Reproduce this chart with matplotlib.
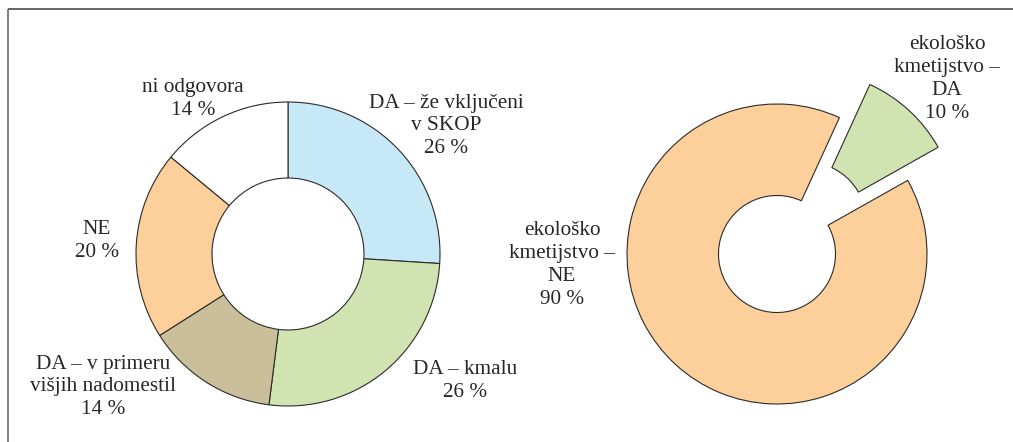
import matplotlib
matplotlib.use("Agg")
import matplotlib.pyplot as plt

# ---- data ----
left_labels = ["DA – že vključeni\nv SKOP", "DA – kmalu", "DA – v primeru\nvišjih nadomestil", "NE", "ni odgovora"]
left_values = [26, 26, 14, 20, 14]
left_colors = ["#C7E8F7", "#D0E3B0", "#CBBF9B", "#FDCF9B", "#FFFFFF"]

right_labels = ["ekološko\nkmetijstvo –\nDA", "ekološko\nkmetijstvo –\nNE"]
right_values = [10, 90]
right_colors = ["#D0E3B0", "#FDCF9B"]

# ---- layout (pixel coordinates, y up) ----
W, H = 1013, 442
left_center = (288, H - 254)
left_radius = 152
right_center = (777, H - 254)
right_radius = 150
left_label_pos = [(446, H - 126), (465, H - 381), (103, H - 387), (97, H - 241), (193, H - 99)]
right_label_pos = [(947, H - 79), (562, H - 265)]

fig = plt.figure(figsize=(W / 100, H / 100), dpi=100)
ax = fig.add_axes([0, 0, 1, 1])

edge = dict(edgecolor="#2b2b2b", linewidth=0.8)

ax.pie(left_values, colors=left_colors, startangle=90, counterclock=False,
       center=left_center, radius=left_radius,
       wedgeprops=dict(width=left_radius * 0.5, **edge), frame=True)

ax.pie(right_values, colors=right_colors, startangle=65.4, counterclock=False,
       center=right_center, radius=right_radius, explode=[45, 0],
       wedgeprops=dict(width=right_radius * 0.61, **edge), frame=True)

ax.set_xlim(0, W)
ax.set_ylim(0, H)
ax.set_aspect("auto")
ax.axis("off")

font = dict(family="Liberation Serif", fontsize=15.3, color="#2a2627",
            ha="center", va="center", linespacing=1.27)

for lab, val, (x, y) in zip(left_labels, left_values, left_label_pos):
    ax.text(x, y, f"{lab}\n{val} %", **font)
for lab, val, (x, y) in zip(right_labels, right_values, right_label_pos):
    ax.text(x, y, f"{lab}\n{val} %", **font)

# frame lines
ax.plot([7.5, W], [H - 9, H - 9], color="#4a4a4a", linewidth=1.2, solid_capstyle="butt")
ax.plot([7.5, 7.5], [0, H - 9], color="#6a6a6a", linewidth=1.2, solid_capstyle="butt")

fig.savefig("out.png", dpi=100)
